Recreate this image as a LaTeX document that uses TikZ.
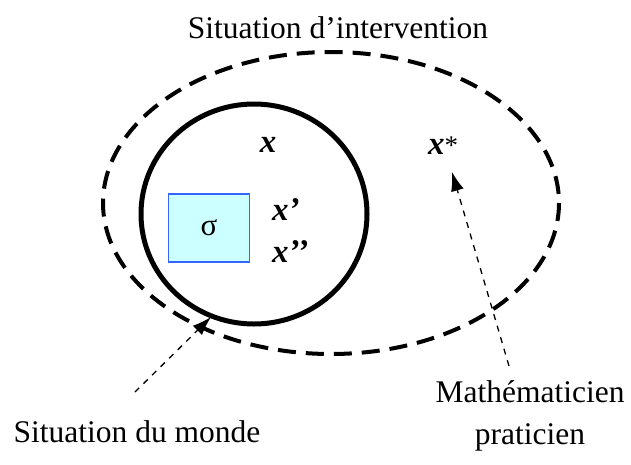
\documentclass[tikz,border=0pt]{standalone}
\usepackage{fontspec}
\setmainfont{Liberation Serif}
\usetikzlibrary{arrows.meta}
\definecolor{boxfill}{HTML}{CCFFFF}
\definecolor{boxdraw}{HTML}{3366FF}
\tikzset{
  lbl/.style={font=\fontsize{31.5}{34}\selectfont, inner sep=0pt},
  var/.style={font=\fontsize{33}{36}\selectfont\bfseries\itshape, inner sep=0pt},
  ptr/.style={line width=1.3pt, dash pattern=on 6pt off 6pt, -{Latex[length=19pt,width=13pt]}},
}
\begin{document}
\begin{tikzpicture}[x=1pt,y=-1pt]
\useasboundingbox (0,0) rectangle (631,464);
\draw[line width=4pt, dash pattern=on 18pt off 10pt] (331,203) ellipse [x radius=228, y radius=151];
\draw[line width=5pt] (254,214) ellipse [x radius=113, y radius=110];
\node[draw=boxdraw, fill=boxfill, line width=1.2pt, minimum width=81pt, minimum height=68pt, inner sep=0pt] (sigma) at (209,228) {\fontsize{31}{34}\selectfont σ};
\node[var] (x) at (268,145) {x};
\node[var, anchor=west] (xs) at (428,146) {x\textnormal{\fontsize{27}{30}\selectfont*}};
\node[var, anchor=west] (xp) at (272,210) {x’};
\node[var, anchor=west] (xpp) at (272,252) {x’’};
\node[lbl] (si) at (338,28) {Situation d’intervention};
\node[lbl] (sm) at (137,432) {Situation du monde};
\node[lbl] (m1) at (530,392) {Mathématicien};
\node[lbl] (m2) at (530,437) {praticien};
\coordinate (a1s) at (135,392);
\coordinate (a1e) at (211,317);
\coordinate (a2s) at (509,366);
\coordinate (a2e) at (452,172);
\draw[ptr] (a1s) -- (a1e);
\draw[ptr] (a2s) -- (a2e);
\end{tikzpicture}
\end{document}
